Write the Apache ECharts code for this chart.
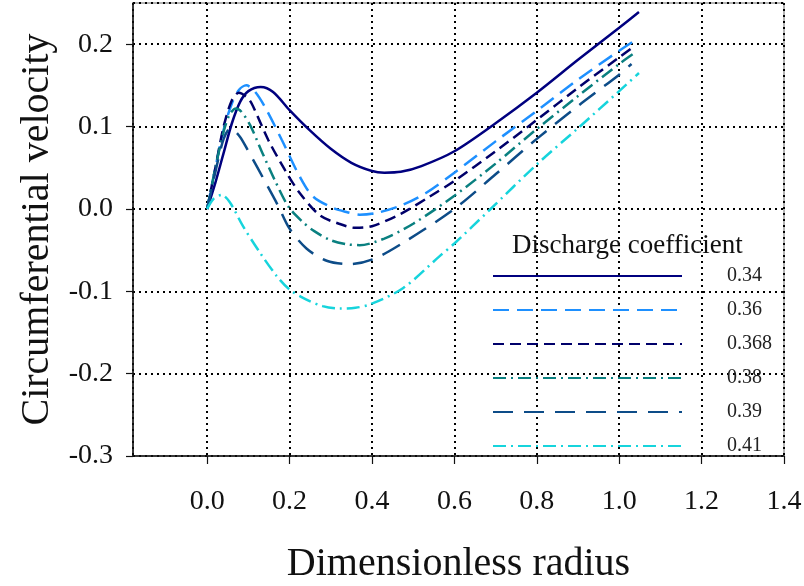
<!DOCTYPE html>
<html>
<head>
<meta charset="utf-8">
<script src="https://cdn.jsdelivr.net/npm/echarts@6/dist/echarts.min.js"></script>
<style>
  html, body { margin: 0; padding: 0; background: #fff; }
  #chart { width: 804px; height: 586px; }
</style>
</head>
<body>
<div id="chart"></div>
<script>
// discharge coefficient values (legend)
var coefNames = ['0.34', '0.36', '0.368', '0.38', '0.39', '0.41'];

// [dimensionless radius, circumferential velocity]
var c034 = [[0,0],[0.02,0.032],[0.04,0.068],[0.06,0.104],[0.08,0.13],[0.1,0.143],[0.13,0.148],[0.16,0.142],
  [0.2,0.12],[0.25,0.095],[0.3,0.073],[0.35,0.056],[0.4,0.046],[0.43,0.044],[0.47,0.045],[0.52,0.052],
  [0.6,0.07],[0.7,0.104],[0.8,0.141],[0.9,0.181],[1.0,0.22],[1.048,0.239]];
var c036 = [[0,0],[0.02,0.05],[0.04,0.096],[0.06,0.128],[0.078,0.145],[0.095,0.15],[0.115,0.143],[0.14,0.124],
  [0.181,0.084],[0.225,0.039],[0.257,0.015],[0.306,0.001],[0.34,-0.004],[0.37,-0.007],[0.41,-0.005],
  [0.47,0.004],[0.53,0.019],[0.6,0.044],[0.7,0.082],[0.8,0.119],[0.9,0.157],[1.0,0.192],[1.046,0.207]];
var c0368 = [[0,0],[0.02,0.05],[0.04,0.1],[0.06,0.132],[0.077,0.141],[0.095,0.136],[0.108,0.128],[0.148,0.084],
  [0.189,0.047],[0.225,0.019],[0.274,-0.008],[0.32,-0.018],[0.36,-0.023],[0.4,-0.021],[0.47,-0.006],
  [0.54,0.015],[0.6,0.034],[0.7,0.07],[0.8,0.108],[0.9,0.147],[1.0,0.184],[1.035,0.197]];
var c038 = [[0,0],[0.02,0.05],[0.04,0.094],[0.055,0.115],[0.07,0.122],[0.083,0.118],[0.104,0.102],[0.134,0.068],
  [0.164,0.035],[0.197,0.003],[0.23,-0.015],[0.26,-0.027],[0.3,-0.038],[0.34,-0.043],[0.37,-0.044],
  [0.43,-0.036],[0.5,-0.018],[0.6,0.016],[0.7,0.055],[0.8,0.097],[0.9,0.137],[1.0,0.176],[1.042,0.191]];
var c039 = [[0,0],[0.02,0.045],[0.04,0.085],[0.057,0.098],[0.079,0.088],[0.1,0.07],[0.144,0.03],[0.172,0.004],
  [0.2,-0.024],[0.241,-0.048],[0.29,-0.063],[0.346,-0.067],[0.403,-0.061],[0.476,-0.041],[0.6,0.0],
  [0.7,0.042],[0.8,0.085],[0.9,0.125],[1.0,0.163],[1.03,0.176]];
var c041 = [[0,0],[0.015,0.012],[0.035,0.017],[0.055,0.008],[0.087,-0.021],[0.128,-0.053],[0.168,-0.081],
  [0.2,-0.098],[0.241,-0.11],[0.28,-0.118],[0.322,-0.121],[0.36,-0.12],[0.395,-0.116],[0.476,-0.096],
  [0.565,-0.057],[0.6,-0.042],[0.686,-0.001],[0.8,0.054],[0.9,0.098],[1.0,0.143],[1.048,0.165]];

var curves = [c034, c036, c0368, c038, c039, c041];
var colors = ['#00007f', '#1e90ff', '#00006a', '#0a8080', '#0d4c88', '#16d4dc'];
var dashes = ['solid', [16, 8], [11, 6], [13, 5, 2, 5], [20, 11], [13, 5, 2, 5]];

var serif = '"Liberation Serif", "DejaVu Serif", serif';

var series = coefNames.map(function (name, i) {
    return {
        name: name,
        type: 'line',
        data: curves[i],
        symbol: 'none',
        smooth: 0.3,
        lineStyle: { color: colors[i], width: 2.5, type: dashes[i] },
        itemStyle: { color: colors[i] }
    };
});

var option = {
    backgroundColor: '#fff',
    animation: false,
    title: {
        text: 'Discharge coefficient',
        left: 507,
        top: 227,
        textStyle: { fontFamily: serif, fontWeight: 'normal', fontSize: 27, color: '#111' }
    },
    legend: {
        orient: 'vertical',
        left: 487,
        top: 261,
        itemWidth: 189,
        itemHeight: 14,
        itemGap: 14,
        data: coefNames,
        itemStyle: { opacity: 0 },
        textStyle: { fontFamily: serif, fontSize: 20, color: '#222', padding: [4, 0, 0, 40] }
    },
    grid: {
        left: 133, right: 20, top: 3, bottom: 130,
        outerBoundsMode: 'none',
        show: true, borderColor: '#666', borderWidth: 1
    },
    xAxis: {
        type: 'value',
        min: -0.18,
        max: 1.4,
        splitNumber: 8,
        name: 'Dimensionless radius',
        nameLocation: 'middle',
        nameGap: 88,
        nameTextStyle: { fontFamily: serif, fontSize: 40, color: '#111' },
        axisLine: { onZero: false, lineStyle: { color: '#111', width: 1.5 } },
        axisTick: { show: true, inside: false, length: 8, lineStyle: { color: '#111', width: 1.2 } },
        axisLabel: {
            showMinLabel: false,
            margin: 32,
            fontFamily: serif, fontSize: 28, color: '#111',
            formatter: function (v) { return v.toFixed(1); }
        },
        splitLine: { show: true, lineStyle: { color: '#000', width: 2, type: [2, 4] } }
    },
    yAxis: {
        type: 'value',
        min: -0.3,
        max: 0.25,
        interval: 0.1,
        name: 'Circumferential velocity',
        nameLocation: 'middle',
        nameGap: 72,
        nameTextStyle: { fontFamily: serif, fontSize: 40, color: '#111' },
        axisLine: { onZero: false, lineStyle: { color: '#111', width: 1.5 } },
        axisTick: { show: true, inside: false, length: 7, lineStyle: { color: '#111', width: 1.2 } },
        axisLabel: {
            showMaxLabel: false,
            margin: 20,
            fontFamily: serif, fontSize: 28, color: '#111',
            formatter: function (v) { return v.toFixed(1); }
        },
        splitLine: { show: true, lineStyle: { color: '#000', width: 2, type: [2, 4] } }
    },
    series: series
};

var chart = echarts.init(document.getElementById('chart'));
chart.setOption(option);
window.addEventListener('resize', function () {
    chart.resize();
});
</script>
</body>
</html>
